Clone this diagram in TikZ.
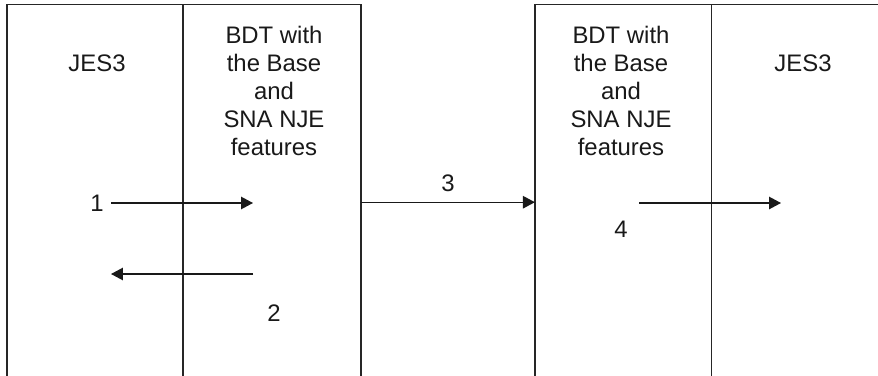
\documentclass[tikz,border=0pt]{standalone}
\usepackage{fontspec}
\setmainfont{Liberation Sans}
\usetikzlibrary{arrows.meta,positioning}
\tikzset{lane/.style={
    % The shape:
    rectangle,
    anchor=north west,
    inner sep=0pt,
    outer sep=0pt,
    % The size:
    minimum height=7.91cm,
    % The border:
    line width=0.7pt,
    draw=black!85,
    },
    caption/.style={
    font=\fontsize{13.6}{15.9}\selectfont,
    text=black!90,
    align=center,
    inner sep=0pt,
    },
    flow/.style={
    -{Triangle[length=2.4mm,width=2.5mm]},
    line width=0.7pt,
    draw=black!90,
    },
}

\begin{document}
\begin{tikzpicture}[x=0.02cm, y=-0.02cm, node distance=0mm and 0mm]
    \path[use as bounding box, clip] (0,0) rectangle (878,375);

    \node (jesL)  [lane, minimum width=3.52cm] at (7,4.5)          {};
    \node (bdtL)  [lane, minimum width=3.56cm, right=of jesL]       {};
    \node (bdtR)  [lane, minimum width=3.54cm, right=3.48cm of bdtL] {};
    \node (jesR)  [lane, minimum width=4cm, right=of bdtR]          {};

    \node (jesLtext) [caption] at (97,63)  {JES3};
    \node (bdtLtext) [caption] at (274,91) {BDT with\\the Base\\and\\SNA NJE\\features};
    \node (bdtRtext) [caption] at (621,91) {BDT with\\the Base\\and\\SNA NJE\\features};
    \node (jesRtext) [caption] at (803,63) {JES3};

    \node (n1) [caption] at (97,203)  {1};
    \node (n2) [caption] at (274,313) {2};
    \node (n3) [caption] at (448,183) {3};
    \node (n4) [caption] at (621,229) {4};

    \coordinate (a1s) at (111,203);
    \coordinate (a1e) at (253,203);
    \coordinate (a2s) at (253,274);
    \coordinate (a2e) at (111,274);
    \coordinate (a4s) at (639,203);
    \coordinate (a4e) at (781,203);

    \draw[flow] (a1s) -- (a1e);
    \draw[flow] (a2s) -- (a2e);
    \draw[flow] (bdtL.east) -- (bdtR.west);
    \draw[flow] (a4s) -- (a4e);
\end{tikzpicture}
\end{document}
